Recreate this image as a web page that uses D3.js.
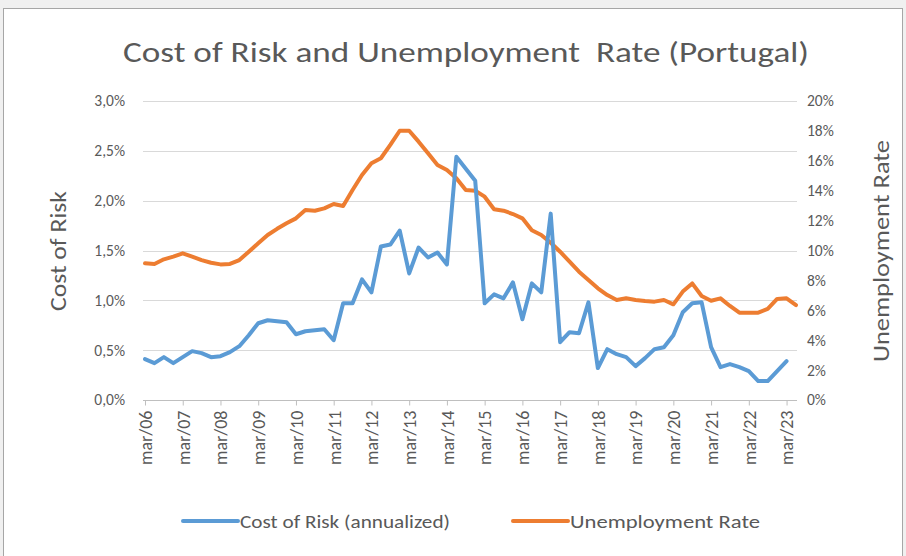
<!DOCTYPE html>
<html><head><meta charset="utf-8">
<script src="https://cdn.jsdelivr.net/npm/d3@7"></script>
<style>
body{margin:0;background:#fff;}
text{font-family: Carlito, Lato, "Open Sans", sans-serif; fill:#595959;}
</style>
</head><body><svg id="c" width="906" height="556"></svg>
<script>
const categories = [
"mar/06","jun/06","set/06","dez/06","mar/07","jun/07","set/07","dez/07",
"mar/08","jun/08","set/08","dez/08","mar/09","jun/09","set/09","dez/09",
"mar/10","jun/10","set/10","dez/10","mar/11","jun/11","set/11","dez/11",
"mar/12","jun/12","set/12","dez/12","mar/13","jun/13","set/13","dez/13",
"mar/14","jun/14","set/14","dez/14","mar/15","jun/15","set/15","dez/15",
"mar/16","jun/16","set/16","dez/16","mar/17","jun/17","set/17","dez/17",
"mar/18","jun/18","set/18","dez/18","mar/19","jun/19","set/19","dez/19",
"mar/20","jun/20","set/20","dez/20","mar/21","jun/21","set/21","dez/21",
"mar/22","jun/22","set/22","dez/22","mar/23","jun/23"];
const tickLabels = ["mar/06","mar/07","mar/08","mar/09","mar/10","mar/11","mar/12","mar/13","mar/14",
"mar/15","mar/16","mar/17","mar/18","mar/19","mar/20","mar/21","mar/22","mar/23"];
// Cost of Risk (annualized), % — mar/06 .. mar/23
const costOfRisk = [0.41,0.37,0.43,0.37,0.43,0.49,0.47,0.43,0.44,0.48,
0.54,0.65,0.77,0.80,0.79,0.78,0.66,0.69,0.70,0.71,
0.60,0.97,0.97,1.21,1.08,1.54,1.56,1.70,1.27,1.53,
1.43,1.48,1.36,2.44,2.32,2.20,0.97,1.06,1.02,1.18,
0.81,1.17,1.08,1.87,0.58,0.68,0.67,0.98,0.32,0.51,
0.46,0.43,0.34,0.42,0.51,0.53,0.65,0.88,0.97,0.98,
0.53,0.33,0.36,0.33,0.29,0.19,0.19,0.29,0.39];
// Unemployment Rate, % — mar/06 .. jun/23
const unemployment = [9.14,9.10,9.41,9.59,9.81,9.59,9.36,9.18,9.07,9.10,
9.36,9.92,10.48,11.04,11.45,11.82,12.15,12.71,12.66,12.82,
13.11,12.98,14.05,15.05,15.83,16.17,17.06,18.01,18.01,17.28,
16.50,15.72,15.38,14.83,14.05,14.00,13.60,12.76,12.66,12.44,
12.15,11.35,11.04,10.52,9.92,9.25,8.58,8.03,7.47,7.02,
6.69,6.80,6.69,6.62,6.58,6.69,6.40,7.25,7.80,6.96,
6.64,6.80,6.29,5.84,5.84,5.84,6.09,6.76,6.80,6.35];
const leftTicks = [0,0.005,0.01,0.015,0.02,0.025,0.03];
const rightTicks = [0,0.02,0.04,0.06,0.08,0.10,0.12,0.14,0.16,0.18,0.20];
const seriesNames = ["Cost of Risk (annualized)","Unemployment Rate"];
const colors = ["#5b9bd5","#ed7d31"];

const svg = d3.select("#c");
svg.append("rect").attr("width",906).attr("height",556).attr("fill","#f0f0f0");
svg.append("rect").attr("x",3.5).attr("y",8.5).attr("width",899).attr("height",560)
  .attr("fill","#fff").attr("stroke","#a6a6a6");

const plot = {l:143, r:797, t:101, b:400};
const x = d3.scalePoint().domain(categories).range([145, 796]);
const yL = d3.scaleLinear().domain([0,0.03]).range([plot.b, plot.t]);
const yR = d3.scaleLinear().domain([0,0.20]).range([plot.b, plot.t]);
const loc = d3.formatLocale({decimal:",", thousands:".", grouping:[3], currency:["","€"]});

// gridlines
svg.append("g").selectAll("line").data(leftTicks.slice(1)).join("line")
  .attr("x1",plot.l).attr("x2",plot.r)
  .attr("y1",d=>Math.round(yL(d))+0.5).attr("y2",d=>Math.round(yL(d))+0.5)
  .attr("stroke","#d9d9d9").attr("stroke-width",1);

// left axis
const gl = svg.append("g").attr("transform",`translate(${plot.l},0)`)
  .call(d3.axisLeft(yL).tickValues(leftTicks).tickSize(0).tickPadding(18).tickFormat(loc.format(".1%")));
gl.select(".domain").remove();
gl.selectAll("text").style("font-size","15.5px").style("fill","#595959");

// right axis
const gr = svg.append("g").attr("transform",`translate(${plot.r},0)`)
  .call(d3.axisRight(yR).tickValues(rightTicks).tickSize(0).tickPadding(10).tickFormat(loc.format(".0%")));
gr.select(".domain").remove();
gr.selectAll("text").style("font-size","15.5px").style("fill","#595959");

// bottom axis
const gb = svg.append("g").attr("transform",`translate(0,${Math.round(plot.b)+0.5})`)
  .call(d3.axisBottom(x).tickValues(tickLabels).tickSize(5).tickSizeOuter(0));
gb.select(".domain").attr("d",`M${plot.l},0H${plot.r}`).attr("stroke","#bfbfbf");
gb.selectAll(".tick line").attr("stroke","#bfbfbf");
gb.selectAll("text").attr("transform","rotate(-90)").attr("text-anchor","end")
  .attr("x",-10).attr("y",0).attr("dy","0.35em").style("font-size","18px").style("fill","#595959");

// lines
const lineL = d3.line().x((d,i)=>x(categories[i])).y(d=>yL(d/100));
const lineR = d3.line().x((d,i)=>x(categories[i])).y(d=>yR(d/100));
svg.append("path").datum(unemployment).attr("d",lineR).attr("fill","none")
  .attr("stroke",colors[1]).attr("stroke-width",4).attr("stroke-linejoin","round").attr("stroke-linecap","round");
svg.append("path").datum(costOfRisk).attr("d",lineL).attr("fill","none")
  .attr("stroke",colors[0]).attr("stroke-width",4).attr("stroke-linejoin","round").attr("stroke-linecap","round");

// title
svg.append("text").attr("x",466).attr("y",62).attr("text-anchor","middle")
  .style("font-size","29px").attr("textLength",686).attr("lengthAdjust","spacingAndGlyphs")
  .text("Cost of Risk and Unemployment  Rate (Portugal)").style("white-space","pre");

// axis titles
svg.append("text").attr("transform","translate(66,251) rotate(-90)").attr("text-anchor","middle")
  .style("font-size","22px").attr("textLength",120).attr("lengthAdjust","spacingAndGlyphs").text("Cost of Risk");
svg.append("text").attr("transform","translate(889,251) rotate(-90)").attr("text-anchor","middle")
  .style("font-size","22px").attr("textLength",222).attr("lengthAdjust","spacingAndGlyphs").text("Unemployment Rate");

// legend
const legX = [183, 513];
const legLen = [210, 190];
seriesNames.forEach((n,i)=>{
  const g = svg.append("g").attr("transform",`translate(${legX[i]},521)`);
  g.append("line").attr("x1",0).attr("x2",55).attr("y1",0).attr("y2",0)
    .attr("stroke",colors[i]).attr("stroke-width",4).attr("stroke-linecap","round");
  g.append("text").attr("x",57).attr("y",0).attr("dy","0.35em").style("font-size","19px")
    .attr("textLength",legLen[i]).attr("lengthAdjust","spacingAndGlyphs").text(n);
});
</script>
</body></html>
